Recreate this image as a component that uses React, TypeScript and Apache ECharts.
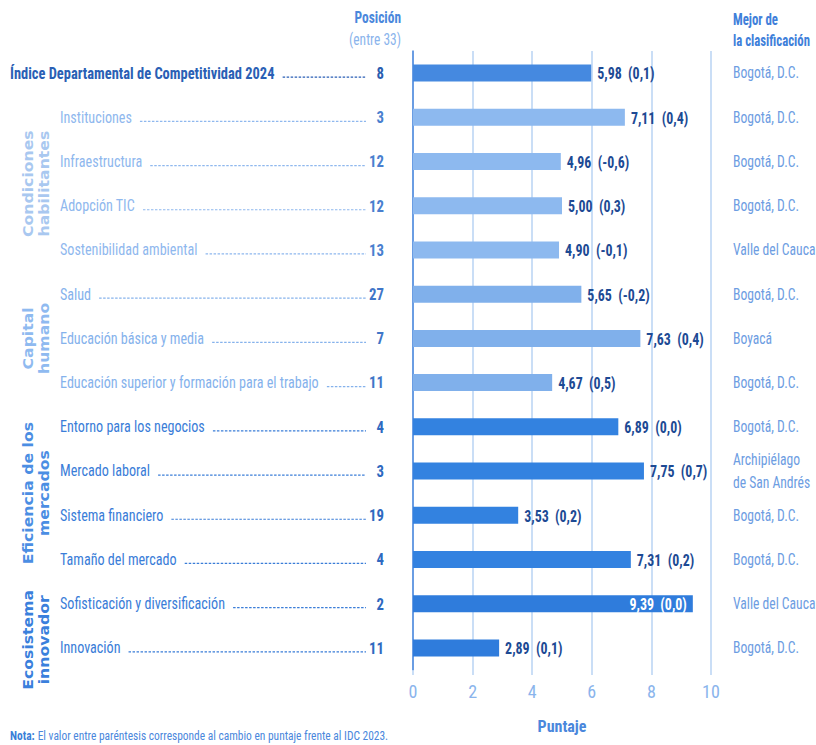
import React, { useEffect, useRef } from "react";
import * as echarts from "echarts";

const categories = [
  "Índice Departamental de Competitividad 2024",
  "Instituciones",
  "Infraestructura",
  "Adopción TIC",
  "Sostenibilidad ambiental",
  "Salud",
  "Educación básica y media",
  "Educación superior y formación para el trabajo",
  "Entorno para los negocios",
  "Mercado laboral",
  "Sistema financiero",
  "Tamaño del mercado",
  "Sofisticación y diversificación",
  "Innovación",
];
const scores = [5.98, 7.11, 4.96, 5.0, 4.9, 5.65, 7.63, 4.67, 6.89, 7.75, 3.53, 7.31, 9.39, 2.89];
const changes = [0.1, 0.4, -0.6, 0.3, -0.1, -0.2, 0.4, 0.5, 0.0, 0.7, 0.2, 0.2, 0.0, 0.1];
const positions = [8, 3, 12, 12, 13, 27, 7, 11, 4, 3, 19, 4, 2, 11];
const bestRanked = [
  "Bogotá, D.C.",
  "Bogotá, D.C.",
  "Bogotá, D.C.",
  "Bogotá, D.C.",
  "Valle del Cauca",
  "Bogotá, D.C.",
  "Boyacá",
  "Bogotá, D.C.",
  "Bogotá, D.C.",
  "Archipiélago\nde San Andrés",
  "Bogotá, D.C.",
  "Bogotá, D.C.",
  "Valle del Cauca",
  "Bogotá, D.C.",
];
const groupOf = ["idc", "cond", "cond", "cond", "cond", "cap", "cap", "cap", "efi", "efi", "efi", "efi", "eco", "eco"];
const groupTitles = [
  { key: "cond", lines: ["Condiciones", "habilitantes"], rows: [1, 4] },
  { key: "cap", lines: ["Capital", "humano"], rows: [5, 7] },
  { key: "efi", lines: ["Eficiencia de los", "mercados"], rows: [8, 11] },
  { key: "eco", lines: ["Ecosistema", "innovador"], rows: [12, 13] },
];
const xTicks = [0, 2, 4, 6, 8, 10];

const FONT = "'Liberation Sans Narrow', 'Roboto Condensed', 'DejaVu Sans Condensed', sans-serif";
const SX = 0.87;

const barColors: Record<string, string> = {
  idc: "#4589e0",
  cond: "#8db9ef",
  cap: "#80b0eb",
  efi: "#3382e0",
  eco: "#2f7cdc",
};
const labelColors: Record<string, string> = {
  idc: "#2a5fb5",
  cond: "#8fb8ee",
  cap: "#85b2ec",
  efi: "#3a7dd8",
  eco: "#3a7dd8",
};
const posColors: Record<string, string> = {
  idc: "#2a5db0",
  cond: "#4a7fcf",
  cap: "#3f76c8",
  efi: "#2f69c0",
  eco: "#2f69c0",
};
const groupTitleColors: Record<string, string> = {
  cond: "#a9c8f0",
  cap: "#8fbaf0",
  efi: "#4b8ee3",
  eco: "#3a80dc",
};

const fmt = (v: number, d: number) => v.toFixed(d).replace(".", ",");

let measureCtx: CanvasRenderingContext2D | null = null;
function textWidth(text: string, font: string) {
  if (!measureCtx) measureCtx = document.createElement("canvas").getContext("2d");
  if (!measureCtx) return text.length * 6;
  measureCtx.font = font;
  return measureCtx.measureText(text).width;
}

export default function App() {
  const ref = useRef<HTMLDivElement>(null);

  useEffect(() => {
    document.body.style.margin = "0";
    if (!ref.current) return;
    const chart = echarts.init(ref.current, null, { renderer: "svg" });

    const labelSize = 17;
    const gridTop = 51;
    const gridBottom = 75;

    const option: any = {
      animation: false,
      backgroundColor: "#ffffff",
      grid: { left: 413, right: 105, top: gridTop, bottom: gridBottom },
      xAxis: {
        type: "value",
        min: 0,
        max: 10,
        interval: 2,
        name: "Puntaje",
        nameLocation: "middle",
        nameGap: 48,
        nameTextStyle: { color: "#4a87dc", fontFamily: FONT, fontSize: 16, fontWeight: "bold" },
        axisLine: { show: false },
        axisTick: { show: true, length: 5, lineStyle: { color: "#b8d3f3", width: 1.5 } },
        axisLabel: {
          color: "#8ab4ec",
          fontFamily: FONT,
          fontSize: 18,
          margin: 12,
          formatter: (v: number) => (xTicks.includes(v) ? String(v) : ""),
        },
        splitLine: { show: true, lineStyle: { color: "#b8d3f3", width: 1.5 } },
      },
      yAxis: {
        type: "category",
        inverse: true,
        data: categories,
        axisLine: { show: true, lineStyle: { color: "#4a87dc", width: 1.5 } },
        axisTick: { show: false },
        axisLabel: { show: false },
      },
      graphic: [
        {
          type: "text",
          x: 401,
          y: 10,
          scaleX: 0.84,
          style: { text: "Posición", fill: "#4a87dc", font: `bold 16px ${FONT}`, align: "right" },
        },
        {
          type: "text",
          x: 401,
          y: 32,
          scaleX: 0.84,
          style: { text: "(entre 33)", fill: "#8ab4ec", font: `16px ${FONT}`, align: "right" },
        },
        {
          type: "text",
          x: 733,
          y: 10,
          scaleX: 0.8,
          style: { text: "Mejor de\nla clasificación", fill: "#3f80da", font: `bold 16px ${FONT}`, lineHeight: 21 },
        },
        {
          type: "text",
          x: 10,
          y: 729,
          scaleX: 0.88,
          style: {
            text: "{b|Nota:} {n|El valor entre paréntesis corresponde al cambio en puntaje frente al IDC 2023.}",
            rich: {
              b: { fill: "#3a7fd8", font: `bold 13px ${FONT}` },
              n: { fill: "#4a87dc", font: `13px ${FONT}` },
            },
          },
        },
      ],
      series: [
        {
          type: "bar",
          barWidth: 17,
          z: 2,
          data: scores.map((v, i) => ({
            value: v,
            itemStyle: { color: barColors[groupOf[i]] },
          })),
        },
        {
          type: "custom",
          silent: true,
          clip: false,
          z: 10,
          data: categories.map((_, i) => [0, i]),
          renderItem: (params: any, api: any) => {
            const i = api.value(1);
            const y = api.coord([0, i])[1];
            const g = groupOf[i];
            const isIdc = g === "idc";
            const x0 = isIdc ? 10 : 60;
            const font = `${isIdc ? "bold " : ""}${labelSize}px ${FONT}`;
            const sx = isIdc ? 0.85 : 0.83;
            const w = textWidth(categories[i], font) * sx;
            const endX = api.coord([scores[i], i])[0];
            const valueText = `${fmt(scores[i], 2)}  (${fmt(changes[i], 1)})`;
            const inside = scores[i] > 9;
            const children: any[] = [
              {
                type: "line",
                shape: { x1: x0 + w + 8, y1: y + 4, x2: 366, y2: y + 4 },
                style: { stroke: labelColors[g], lineWidth: 1.2, lineDash: [2.5, 1.5] },
              },
              {
                type: "text",
                x: x0,
                y,
                scaleX: sx,
                style: { text: categories[i], fill: labelColors[g], font, verticalAlign: "middle" },
              },
              {
                type: "text",
                x: 384,
                y,
                scaleX: SX,
                style: {
                  text: String(positions[i]),
                  fill: posColors[g],
                  font: `bold ${labelSize}px ${FONT}`,
                  align: "right",
                  verticalAlign: "middle",
                },
              },
              {
                type: "text",
                x: inside ? endX - 6 : endX + 6,
                y: y + 1,
                scaleX: SX,
                z2: 100,
                style: {
                  text: valueText,
                  fill: inside ? "#ffffff" : "#1d4a94",
                  font: `bold 16px ${FONT}`,
                  align: inside ? "right" : "left",
                  verticalAlign: "middle",
                },
              },
              {
                type: "text",
                x: 733,
                y: y,
                scaleX: 0.85,
                style: {
                  text: bestRanked[i],
                  fill: "#6d9de2",
                  font: `16px ${FONT}`,
                  verticalAlign: "middle",
                  lineHeight: 23,
                },
              },
            ];
            return { type: "group", children };
          },
        },
        {
          type: "custom",
          silent: true,
          clip: false,
          z: 10,
          data: groupTitles.map((t, k) => [0, k]),
          renderItem: (params: any, api: any) => {
            const t = groupTitles[api.value(1)];
            const yA = api.coord([0, t.rows[0]])[1];
            const yB = api.coord([0, t.rows[1]])[1];
            let yc = (yA + yB) / 2;
            if (t.key === "eco") yc += 14;
            return {
              type: "group",
              children: t.lines.map((line, j) => ({
                type: "text",
                x: 28 + j * 16,
                y: yc,
                rotation: Math.PI / 2,
                scaleX: 1.12,
                style: {
                  text: line,
                  fill: groupTitleColors[t.key],
                  font: `bold 14px 'DejaVu Sans', sans-serif`,
                  align: "center",
                  verticalAlign: "middle",
                },
              })),
            };
          },
        },
      ],
    };

    chart.setOption(option);
    return () => chart.dispose();
  }, []);

  return <div ref={ref} style={{ position: "fixed", left: 0, top: 0, width: 816, height: 745 }} />;
}
